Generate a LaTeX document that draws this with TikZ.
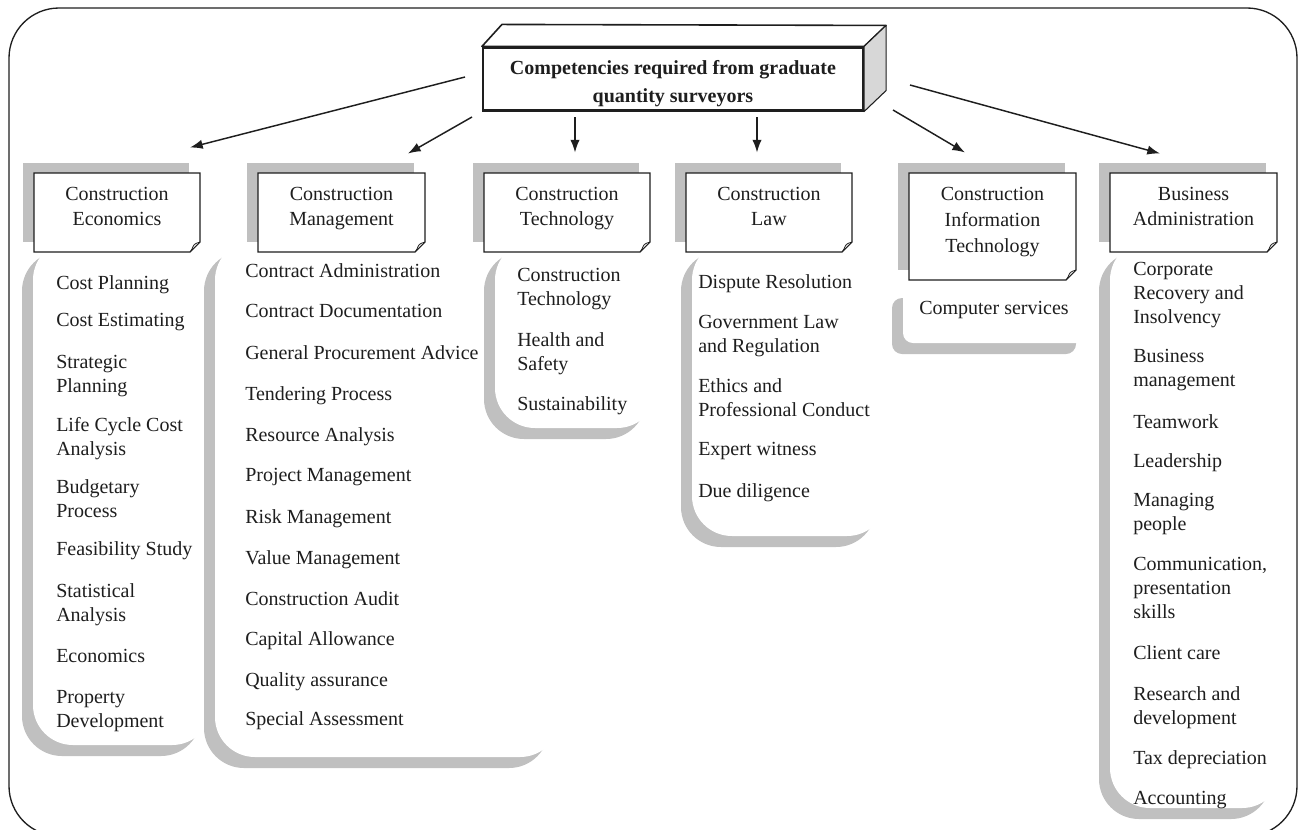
\documentclass[tikz,border=0pt]{standalone}
\usepackage{fontspec}
\setmainfont{Liberation Serif}
\usetikzlibrary{arrows.meta}
\pgfdeclarelayer{back}
\pgfdeclarelayer{mid}
\pgfsetlayers{back,mid,main}
\definecolor{shd}{RGB}{192,192,192}
\definecolor{side}{RGB}{215,215,215}
\definecolor{ink}{RGB}{30,30,30}
\newcommand\qpanel[5]{%
  \fill[shd, rounded corners=#5] (#1-11,#2+11) rectangle (#3-11,#4+11);
  \fill[white, rounded corners=#5] (#1,#2) rectangle (#3,#4);}
\newcommand\qnote[4]{%
  \fill[shd] (#1-11,#2-10) rectangle (#3-11,#4-10);
  \filldraw[fill=white, draw=ink, line width=0.8pt] (#1,#2) -- (#3,#2) -- (#3,#4-10) -- (#3-10,#4) -- (#1,#4) -- cycle;
  \draw[ink, line width=0.6pt] (#3-10,#4) -- (#3-8,#4-3) .. controls (#3-6,#4-8) .. (#3,#4-10);}
\begin{document}
\begin{tikzpicture}[x=0.75pt,y=-0.75pt,
  font=\fontsize{15}{18}\selectfont, text=ink,
  listitem/.style={anchor=north west, align=left, inner sep=0pt},
  htext/.style={anchor=north, align=center, inner sep=0pt, font=\fontsize{15}{18.75}\selectfont},
  arr/.style={-{Latex[length=9.5pt,width=7pt]}, line width=1.1pt, draw=ink}]
\useasboundingbox (0,0) rectangle (1303,829);
\begin{scope}
  \clip (0,0) rectangle (1303,829);
  \draw[ink, line width=1pt, rounded corners=37.5pt] (9,8) rectangle (1297,836);
\end{scope}

% list panels
\begin{pgfonlayer}{back}
  \qpanel{33}{240}{212}{745}{30pt}
  \qpanel{215}{240}{560}{757}{30pt}
  \qpanel{495}{240}{657}{428}{30pt}
  \qpanel{692}{240}{887}{536}{30pt}
  \qpanel{903}{287}{1087}{343}{7.5pt}
  \qpanel{1110}{240}{1282}{808}{30pt}
\end{pgfonlayer}

% header note boxes
\begin{pgfonlayer}{mid}
  \qnote{34}{173}{200}{252}
  \qnote{258}{173}{425}{252}
  \qnote{484}{173}{650}{252}
  \qnote{686}{173}{852}{252}
  \qnote{909}{173}{1076}{280}
  \qnote{1110}{173}{1277}{252}
\end{pgfonlayer}

% title 3D box
\node[draw=ink, line width=1.6pt, fill=white, minimum width=285pt, minimum height=47.25pt,
      inner sep=0pt, font=\bfseries\fontsize{15}{21}\selectfont] (t) at (673,79)
      {\raisebox{-3.2pt}[\height][\depth]{\begin{tabular}{@{}c@{}}Competencies required from graduate\\quantity surveyors\end{tabular}}};
\begin{pgfonlayer}{mid}
  \filldraw[fill=white, draw=ink, line width=1.2pt, line join=round]
    (t.north west) -- ([shift={(20,-22)}]t.north west) -- ([shift={(22,-21)}]t.north east) -- (t.north east) -- cycle;
  \filldraw[fill=side, draw=ink, line width=0.8pt, line join=round]
    (t.north east) -- ([shift={(22,-21)}]t.north east) -- ([shift={(22,-21)}]t.south east) -- (t.south east) -- cycle;
\end{pgfonlayer}

% headers
\node[htext] (h1) at (117,186.5) {Construction\\Economics};
\node[htext] (h2) at (341.5,186.5) {Construction\\Management};
\node[htext] (h3) at (567,186.5) {Construction\\Technology};
\node[htext] (h4) at (769,186.5) {Construction\\Law};
\node[htext, font=\fontsize{15}{19.5}\selectfont] (h5) at (992.5,186.5) {Construction\\Information\\Technology};
\node[htext] (h6) at (1193.5,186.5) {Business\\Administration};

% arrows
\draw[arr] ([shift={(-208,-2)}]t.center) -- ([shift={(73,-39)}]h1.north);
\draw[arr] ([shift={(-201,38)}]t.center) -- ([shift={(66.5,-33)}]h2.north);
\draw[arr] ([shift={(-98,38)}]t.center) -- ([shift={(8,-34)}]h3.north);
\draw[arr] ([shift={(84,38)}]t.center) -- ([shift={(-12,-34)}]h4.north);
\draw[arr] ([shift={(220,31)}]t.center) -- ([shift={(-27.5,-34)}]h5.north);
\draw[arr] ([shift={(237,6)}]t.center) -- ([shift={(-33.5,-33)}]h6.north);

% Construction Economics
\node[listitem] (e1) at (56,275) {Cost Planning};
\node[listitem] (e2) at (56,313) {Cost Estimating};
\node[listitem] (e3) at (56,355) {Strategic\\Planning};
\node[listitem] (e4) at (56,417) {Life Cycle Cost\\Analysis};
\node[listitem] (e5) at (56,479) {Budgetary\\Process};
\node[listitem] (e6) at (56,541) {Feasibility Study};
\node[listitem] (e7) at (56,583) {Statistical\\Analysis};
\node[listitem] (e8) at (56,649) {Economics};
\node[listitem] (e9) at (56,690) {Property\\Development};

% Construction Management
\node[listitem] (m1) at (245,263) {Contract Administration};
\node[listitem] (m2) at (245,304) {Contract Documentation};
\node[listitem] (m3) at (245,345) {General Procurement Advice};
\node[listitem] (m4) at (245,386) {Tendering Process};
\node[listitem] (m5) at (245,427) {Resource Analysis};
\node[listitem] (m6) at (245,468) {Project Management};
\node[listitem] (m7) at (245,509) {Risk Management};
\node[listitem] (m8) at (245,550) {Value Management};
\node[listitem] (m9) at (245,591) {Construction Audit};
\node[listitem] (m10) at (245,631) {Capital Allowance};
\node[listitem] (m11) at (245,672) {Quality assurance};
\node[listitem] (m12) at (245,711) {Special Assessment};

% Construction Technology
\node[listitem] (c1) at (517,268) {Construction\\Technology};
\node[listitem] (c2) at (517,332) {Health and\\Safety};
\node[listitem] (c3) at (517,396) {Sustainability};

% Construction Law
\node[listitem] (l1) at (698,274) {Dispute Resolution};
\node[listitem] (l2) at (698,315) {Government Law\\and Regulation};
\node[listitem] (l3) at (698,378) {Ethics and\\Professional Conduct};
\node[listitem] (l4) at (698,442) {Expert witness};
\node[listitem] (l5) at (698,483) {Due diligence};

% Construction IT
\node[listitem] (i1) at (919,301) {Computer services};

% Business Administration
\node[listitem] (b1) at (1133,262) {Corporate\\Recovery and\\Insolvency};
\node[listitem] (b2) at (1133,349) {Business\\management};
\node[listitem] (b3) at (1133,414) {Teamwork};
\node[listitem] (b4) at (1133,453) {Leadership};
\node[listitem] (b5) at (1133,493) {Managing\\people};
\node[listitem] (b6) at (1133,557) {Communication,\\presentation\\skills};
\node[listitem] (b7) at (1133,645) {Client care};
\node[listitem] (b8) at (1133,686) {Research and\\development};
\node[listitem] (b9) at (1133,750) {Tax depreciation};
\node[listitem] (b10) at (1133,791) {Accounting};
\end{tikzpicture}
\end{document}
